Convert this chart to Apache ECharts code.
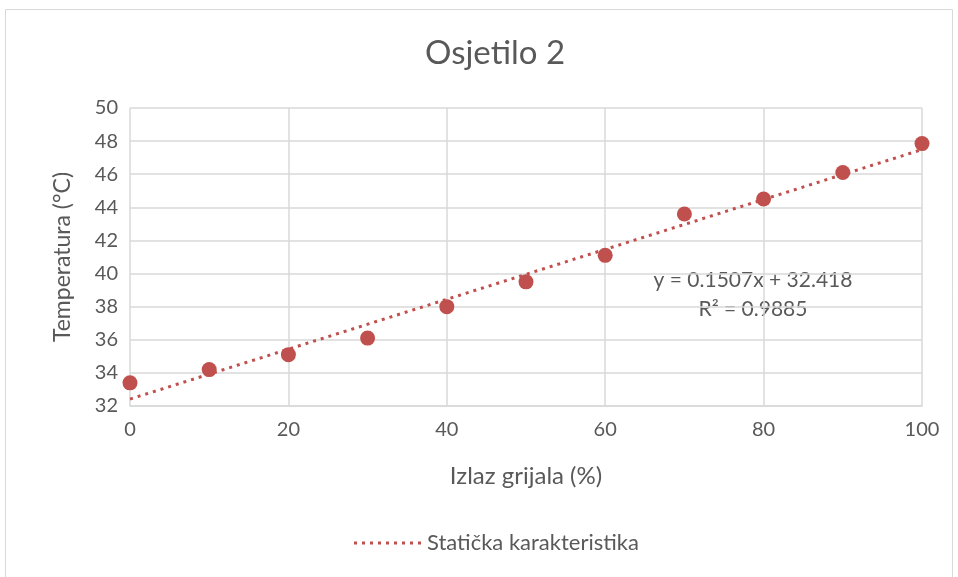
<!DOCTYPE html>
<html>
<head>
<meta charset="utf-8">
<script src="https://cdn.jsdelivr.net/npm/echarts@6/dist/echarts.min.js"></script>
<style>
  html, body { margin: 0; padding: 0; background: #fff; }
  #chart { width: 958px; height: 577px; }
</style>
</head>
<body>
<div id="chart"></div>
<script>
// measured points (heater output % -> temperature)
var izlaz = [0, 10, 20, 30, 40, 50, 60, 70, 80, 90, 100];
var temperatura = [33.4, 34.2, 35.1, 36.1, 38.0, 39.5, 41.1, 43.6, 44.5, 46.1, 47.85];
// linear trendline endpoints, y = 0.1507x + 32.418
var trendX = [0, 100];
var trendY = [32.418, 47.488];
var jednadzba = ["y = 0.1507x + 32.418", "R² = 0.9885"];

var red = "#c0504d",
    txt = "#595959",
    gridCol = "#d9d9d9",
    font = "Lato";

var points = izlaz.map(function(x, i) { return [x, temperatura[i]]; });
var trend = trendX.map(function(x, i) { return [x, trendY[i]]; });

// dotted line icon for the legend
var dots = "path://";
for (var d = 0; d < 9; d++) {
  dots += "M" + (d * 8) + " 0h3v3h-3z";
}

var chart = echarts.init(document.getElementById("chart"));
var option = {
  animation: false,
  textStyle: { fontFamily: font, color: txt },
  title: {
    text: "Osjetilo 2",
    left: 420,
    top: 32,
    textStyle: { fontFamily: font, fontSize: 33, fontWeight: "normal", color: txt }
  },
  grid: { left: 130, right: 36, top: 108, bottom: 171 },
  legend: {
    bottom: 18,
    left: 349,
    icon: dots,
    itemWidth: 69,
    itemHeight: 3,
    itemGap: 6,
    data: ["Statička karakteristika"],
    textStyle: { fontFamily: font, fontSize: 22, color: txt }
  },
  xAxis: {
    type: "value",
    min: 0,
    max: 100,
    interval: 20,
    name: "Izlaz grijala (%)",
    nameLocation: "middle",
    nameGap: 58,
    nameTextStyle: { fontFamily: font, fontSize: 24, color: txt },
    axisLine: { show: true, lineStyle: { color: gridCol, width: 1.5 } },
    axisTick: { show: false },
    axisLabel: { fontFamily: font, fontSize: 20, color: txt, margin: 14 },
    splitLine: { show: true, lineStyle: { color: gridCol, width: 1.5 } }
  },
  yAxis: {
    type: "value",
    min: 32,
    max: 50,
    interval: 2,
    name: "Temperatura (°C)",
    nameLocation: "middle",
    nameGap: 56,
    nameTextStyle: { fontFamily: font, fontSize: 23, color: txt },
    axisLine: { show: false },
    axisTick: { show: false },
    axisLabel: { fontFamily: font, fontSize: 20, color: txt, margin: 12 },
    splitLine: { show: true, lineStyle: { color: gridCol, width: 1.5 } }
  },
  graphic: [
    {
      type: "rect",
      silent: true,
      shape: { x: 5.5, y: 9.5, width: 947, height: 600 },
      style: { fill: null, stroke: gridCol, lineWidth: 1 }
    },
    {
      type: "text",
      x: 753,
      y: 266,
      style: {
        text: jednadzba.join("\n"),
        fontFamily: font,
        fontSize: 21,
        lineHeight: 29,
        fill: txt,
        align: "center"
      }
    }
  ],
  series: [
    {
      name: "Statička karakteristika",
      type: "line",
      data: trend,
      symbol: "none",
      z: 3,
      lineStyle: { color: red, width: 3, type: [3, 5] },
      itemStyle: { color: red }
    },
    {
      name: "Osjetilo",
      type: "scatter",
      data: points,
      symbol: "circle",
      symbolSize: 15,
      z: 4,
      itemStyle: { color: red, opacity: 1 }
    }
  ]
};
chart.setOption(option);
</script>
</body>
</html>
